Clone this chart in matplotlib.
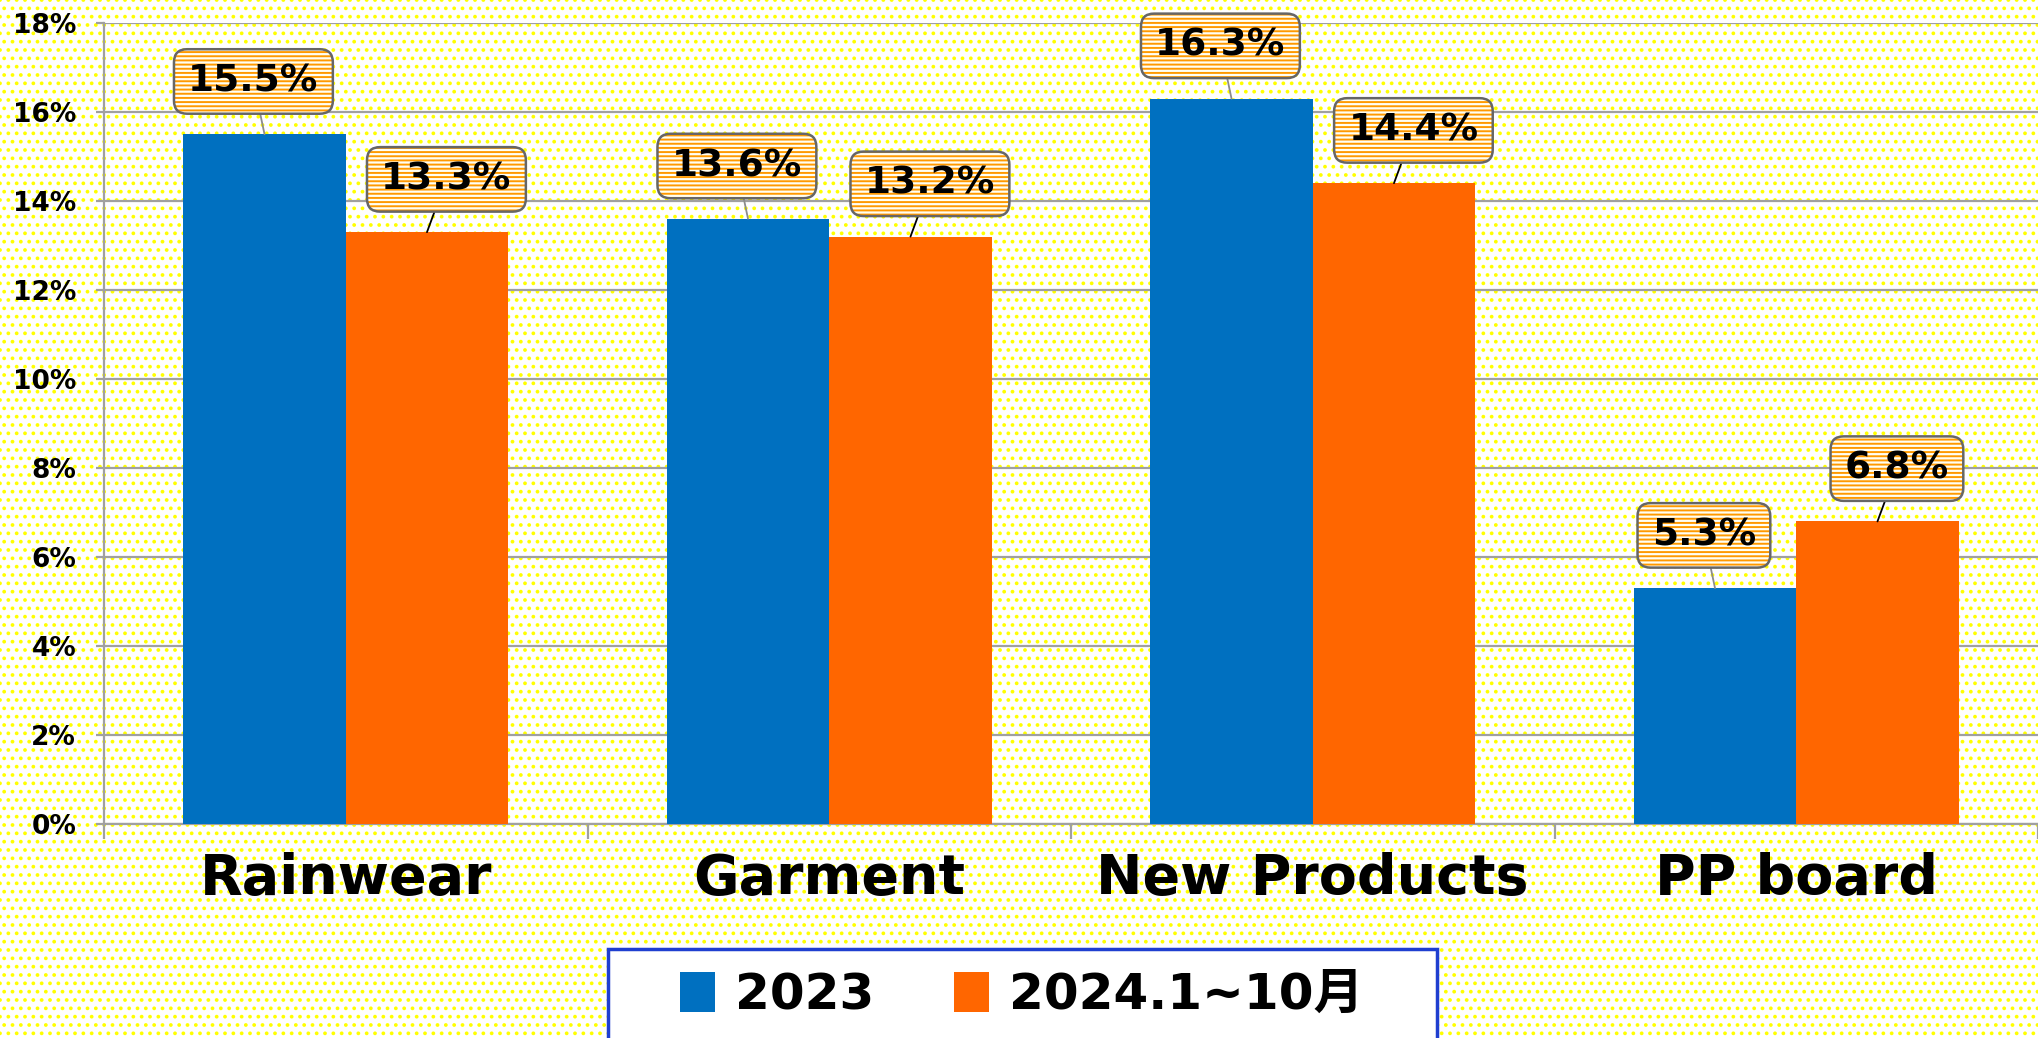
import matplotlib
matplotlib.use('Agg')
import numpy as np
import matplotlib.pyplot as plt
from matplotlib.colors import to_rgba
from matplotlib.patches import Rectangle
from matplotlib.ticker import PercentFormatter
from matplotlib.font_manager import FontProperties

# data (percent)
categories = ['Rainwear', 'Garment', 'New Products', 'PP board']
share_2023 = [15.5, 13.6, 16.3, 5.3]
share_2024 = [13.3, 13.2, 14.4, 6.8]
series_names = ['2023', '2024.1~10月']

BLUE = '#0070C0'
ORANGE = '#FF6600'
GRID = '#A0A0A0'


def hatch_lw(patch, lw):
    # per-patch hatch width when the matplotlib version supports it
    if hasattr(patch, 'set_hatch_linewidth'):
        patch.set_hatch_linewidth(lw)


plt.rcParams['hatch.linewidth'] = 1.5

W, H = 2038, 1038
fig = plt.figure(figsize=(W / 100, H / 100), dpi=100, facecolor='white', edgecolor='#FFFF00')
fig.patch.set_hatch('..')
hatch_lw(fig.patch, 1.5)

ax = fig.add_axes([104 / W, 1 - 824 / H, 1 - 104 / W, (824 - 23) / H])
ax.set_facecolor('none')

x = np.arange(len(categories))
bw = 0.336
bars_a = ax.bar(x - bw / 2, share_2023, bw, color=BLUE, zorder=3)
bars_b = ax.bar(x + bw / 2, share_2024, bw, color=ORANGE, zorder=3)

ax.set_xlim(-0.5, len(categories) - 0.5)
ax.set_ylim(0, 18)
ax.set_yticks(np.arange(0, 19, 2))
ax.yaxis.set_major_formatter(PercentFormatter(xmax=100, decimals=0))
ax.grid(axis='y', color=GRID, linewidth=1.6)
ax.set_axisbelow(True)

for side in ('top', 'right'):
    ax.spines[side].set_visible(False)
for side in ('left', 'bottom'):
    ax.spines[side].set_color(GRID)
    ax.spines[side].set_linewidth(1.6)

ax.tick_params(axis='y', length=6, width=1.6, color=GRID, pad=14, labelsize=19)
for lab in ax.get_yticklabels():
    lab.set_fontweight('bold')

ax.set_xticks(x)
ax.set_xticklabels(categories, fontsize=40, fontweight='bold')
ax.set_xticks(np.arange(-0.5, len(categories), 1), minor=True)
ax.tick_params(axis='x', which='major', length=0, pad=20)
ax.tick_params(axis='x', which='minor', length=11, width=1.6, color=GRID)

# value callouts
for vals, shift, dx, line_col in ((share_2023, -bw / 2, -8, '#8C8C8C'),
                                   (share_2024, bw / 2, 14, 'black')):
    for i, v in enumerate(vals):
        ann = ax.annotate(f'{v:.1f}%', xy=(x[i] + shift, v), xytext=(dx, 38),
                          textcoords='offset points', ha='center', va='center',
                          fontsize=27, fontweight='bold', zorder=5,
                          bbox=dict(boxstyle='round,pad=0.38,rounding_size=0.35',
                                    fc='#FFFFF4', ec='#666666', lw=1.8, hatch='----'),
                          arrowprops=dict(arrowstyle='-', color=line_col, lw=1.3,
                                          shrinkA=0, shrinkB=0))
        box = ann.get_bbox_patch()
        box._hatch_color = to_rgba('#FF9900')
        hatch_lw(box, 1.4)

# legend box, runs off the bottom edge like the original
fig.add_artist(Rectangle((608 / W, -0.02), (1437 - 608) / W, 0.02 + 1 - 949 / H,
                         transform=fig.transFigure, fc='white', ec='#1F3FD0',
                         lw=2.5, zorder=1))
leg_font = FontProperties(family=['DejaVu Sans', 'Noto Sans CJK SC'], weight='bold', size=36)
fig.legend([bars_a, bars_b], series_names, loc='center',
           bbox_to_anchor=(1022 / W, 1 - 995 / H), ncol=2, frameon=False,
           prop=leg_font, handlelength=0.7, handleheight=0.85,
           handletextpad=0.4, columnspacing=1.6, borderaxespad=0)

fig.savefig('out.png', dpi=100)
